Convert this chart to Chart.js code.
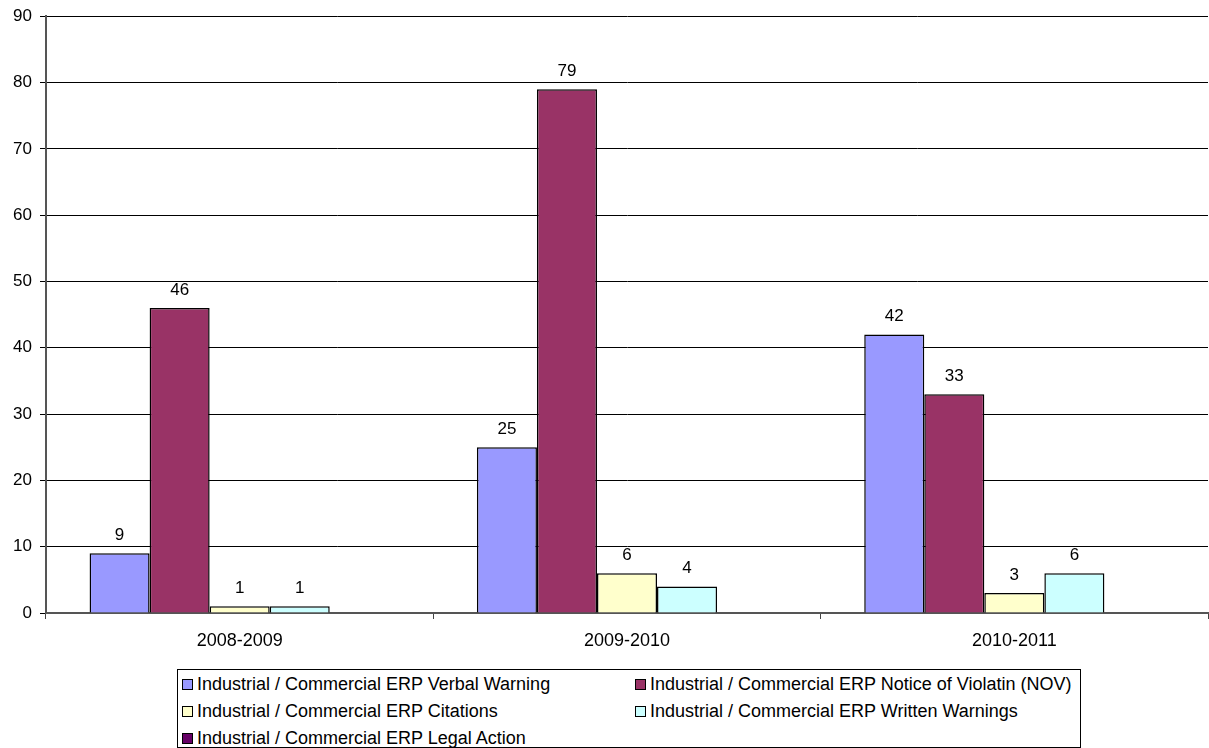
<!DOCTYPE html>
<html>
<head>
<meta charset="utf-8">
<script src="https://cdn.jsdelivr.net/npm/chart.js@4/dist/chart.umd.min.js"></script>
<style>
  body { margin: 0; background: #fff; font-family: "Liberation Sans", Arial, sans-serif; }
  #wrap { position: relative; width: 1209px; height: 748px; overflow: hidden; }
  #chartBox { position: absolute; left: 0; top: -2px; width: 1209px; height: 662px; }
  #legend { position: absolute; left: 177px; top: 669px; width: 904px; height: 79px;
            border: 1px solid #000; box-sizing: border-box; font-size: 18px; color: #000; }
  .item { position: absolute; height: 20px; line-height: 20px; white-space: nowrap; }
  .sw { display: inline-block; width: 9px; height: 9px; border: 1.5px solid #000;
        vertical-align: middle; margin-right: 4px; position: relative; top: -1px; }
</style>
</head>
<body>
<div id="wrap">
  <div id="chartBox"><canvas id="erpChart"></canvas></div>
  <div id="legend"></div>
</div>
<script>
const categories = ['2008-2009', '2009-2010', '2010-2011'];
const verbalWarning = [9, 25, 42];
const noticeOfViolation = [46, 79, 33];
const citations = [1, 6, 3];
const writtenWarnings = [1, 4, 6];
const legalAction = [0, 0, 0];
const yTicks = [0, 10, 20, 30, 40, 50, 60, 70, 80, 90];

const seriesNames = [
    'Industrial / Commercial ERP Verbal Warning',
    'Industrial / Commercial ERP Notice of Violatin (NOV)',
    'Industrial / Commercial ERP Citations',
    'Industrial / Commercial ERP Written Warnings',
    'Industrial / Commercial ERP Legal Action'
];
const seriesColors = ['#9999FF', '#993366', '#FFFFCC', '#CCFFFF', '#660066'];
const seriesData = [verbalWarning, noticeOfViolation, citations, writtenWarnings, legalAction];

const font = '"Liberation Sans", Arial, sans-serif';

// value labels over each bar (zeros are not labelled)
const valueLabels = {
    id: 'valueLabels',
    afterDatasetsDraw(chart) {
        const c = chart.ctx;
        c.save();
        c.font = '17px ' + font;
        c.fillStyle = '#000';
        c.textAlign = 'center';
        c.textBaseline = 'middle';
        chart.data.datasets.forEach((ds, i) => {
            chart.getDatasetMeta(i).data.forEach((bar, j) => {
                if (ds.data[j] > 0) c.fillText(ds.data[j], bar.x, bar.y - 18);
            });
        });
        c.restore();
    }
};

const ctx = document.getElementById('erpChart').getContext('2d');
const erpChart = new Chart(ctx, {
    type: 'bar',
    data: {
        labels: categories,
        datasets: seriesNames.map((name, i) => ({
            label: name,
            data: seriesData[i],
            backgroundColor: seriesColors[i],
            borderColor: '#000',
            borderWidth: 1.5,
            borderSkipped: 'bottom',
            categoryPercentage: 0.775,
            barPercentage: 1
        }))
    },
    options: {
        responsive: true,
        maintainAspectRatio: false,
        animation: false,
        layout: { padding: { top: 14, right: 1, left: 0, bottom: 0 } },
        plugins: {
            legend: { display: false },
            tooltip: { enabled: false }
        },
        scales: {
            x: {
                offset: true,
                afterFit(scale) { scale.height = 47; },
                grid: { offset: true, drawOnChartArea: false, tickLength: 6, color: '#444' },
                border: { color: '#555', width: 2 },
                ticks: { color: '#000', padding: 11, font: { family: font, size: 18 } }
            },
            y: {
                min: 0,
                max: 90,
                afterFit(scale) { scale.width = 46; },
                afterBuildTicks(scale) { scale.ticks = yTicks.map(v => ({ value: v })); },
                grid: { color: '#000', lineWidth: 1, tickLength: 6 },
                border: { color: '#555', width: 2 },
                ticks: { color: '#000', padding: 8, font: { family: font, size: 17 } }
            }
        }
    },
    plugins: [valueLabels]
});

// two-column legend box like the original
const legend = document.getElementById('legend');
const legendPos = [[4, 4], [457, 4], [4, 31], [457, 31], [4, 58]];
seriesNames.forEach((name, i) => {
    const item = document.createElement('div');
    item.className = 'item';
    item.style.left = legendPos[i][0] + 'px';
    item.style.top = (legendPos[i][1]) + 'px';
    item.innerHTML = '<span class="sw" style="background:' + seriesColors[i] + '"></span>' + name;
    legend.appendChild(item);
});
</script>
</body>
</html>
